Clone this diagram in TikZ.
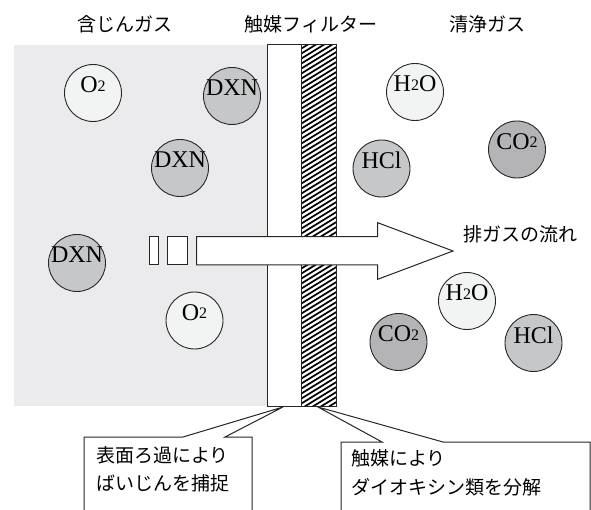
\documentclass[tikz,border=0pt]{standalone}
\usepackage{fontspec}
\setmainfont{Liberation Serif}
\newfontfamily\jp{Noto Sans CJK JP}
\definecolor{bggrey}{HTML}{EBEBED}
\definecolor{lightc}{HTML}{F2F3F3}
\definecolor{midc}{HTML}{C6C7C9}
\definecolor{darkc}{HTML}{B4B4B6}
\newcommand{\sub}[1]{\raisebox{1.5pt}{\fontsize{16}{16}\selectfont #1}}
\tikzset{
  mol/.style={circle, draw=black!85, line width=0.9pt, minimum size=57pt, inner sep=0pt},
  moltext/.style={font=\fontsize{24}{24}\selectfont, inner sep=0pt, yshift=8pt},
  jplabel/.style={font=\jp\fontsize{19}{19}\selectfont, inner sep=0pt},
  outline/.style={draw=black!85, line width=1pt},
}
\begin{document}
\begin{tikzpicture}[x=1pt,y=-1pt]
\useasboundingbox (0,0) rectangle (591,510);
% grey region
\fill[bggrey] (14,45) rectangle (267,406);
% filter
\draw[outline, fill=white] (267,45) rectangle (301,406);
\begin{scope}
  \clip (301,45) rectangle (336,406);
  \foreach \k in {0,...,85} {
    \draw[line width=1.7pt] (299,{40+5*\k}) -- (338,{40+5*\k-24});
  }
\end{scope}
\draw[outline] (301,45) rectangle (336,406);
% titles
\node[jplabel] (t1) at (125,24) {含じんガス};
\node[jplabel] (t2) at (311,24) {触媒フィルター};
\node[jplabel] (t3) at (487,24) {清浄ガス};
% molecules
\node[mol, fill=lightc] (m1) at (93,93) {};
\node[moltext] at (m1) {O\sub{2}};
\node[mol, fill=midc] (m2) at (232,96) {};
\node[moltext] at (m2) {DXN};
\node[mol, fill=midc] (m3) at (180,168) {};
\node[moltext] at (m3) {DXN};
\node[mol, fill=midc] (m4) at (77,263) {};
\node[moltext] at (m4) {DXN};
\node[mol, fill=lightc] (m5) at (194.5,320.5) {};
\node[moltext] at (m5) {O\sub{2}};
\node[mol, fill=lightc] (m6) at (415,92) {};
\node[moltext] at (m6) {H\sub{2}O};
\node[mol, fill=darkc] (m7) at (517,149.5) {};
\node[moltext] at (m7) {CO\sub{2}};
\node[mol, fill=midc] (m8) at (381.5,168.5) {};
\node[moltext] at (m8) {HCl};
\node[mol, fill=lightc] (m9) at (467,301) {};
\node[moltext] at (m9) {H\sub{2}O};
\node[mol, fill=darkc] (m10) at (398.5,342) {};
\node[moltext] at (m10) {CO\sub{2}};
\node[mol, fill=midc] (m11) at (533.5,343) {};
\node[moltext] at (m11) {HCl};
% arrow
\draw[outline, fill=white] (149,236.7) rectangle (158.7,265);
\draw[outline, fill=white] (167,236.7) rectangle (187,265);
\draw[outline, fill=white] (196.7,236.7) -- (377.7,236.7) -- (377.7,222.7) -- (453,251)
  -- (377.7,279.3) -- (377.7,265) -- (196.7,265) -- cycle;
\node[jplabel, anchor=west] (flow) at (463,234) {排ガスの流れ};
% callouts
\coordinate (tip1) at (283,407);
\coordinate (tip2) at (318,407);
\draw[outline, fill=white] (84,520) -- (84,437) -- (183,437) -- (tip1) -- (225,437)
  -- (252,437) -- (252,520);
\draw[outline, fill=white] (341,520) -- (341,442) -- (382,442) -- (tip2) -- (443,442)
  -- (590,442) -- (590,520);
\node[jplabel, anchor=west] (c1a) at (96,455) {表面ろ過により};
\node[jplabel, anchor=west] (c1b) at (96,483) {ばいじんを捕捉};
\node[jplabel, anchor=west] (c2a) at (351,458) {触媒により};
\node[jplabel, anchor=west] (c2b) at (351,487) {ダイオキシン類を分解};
\end{tikzpicture}
\end{document}
